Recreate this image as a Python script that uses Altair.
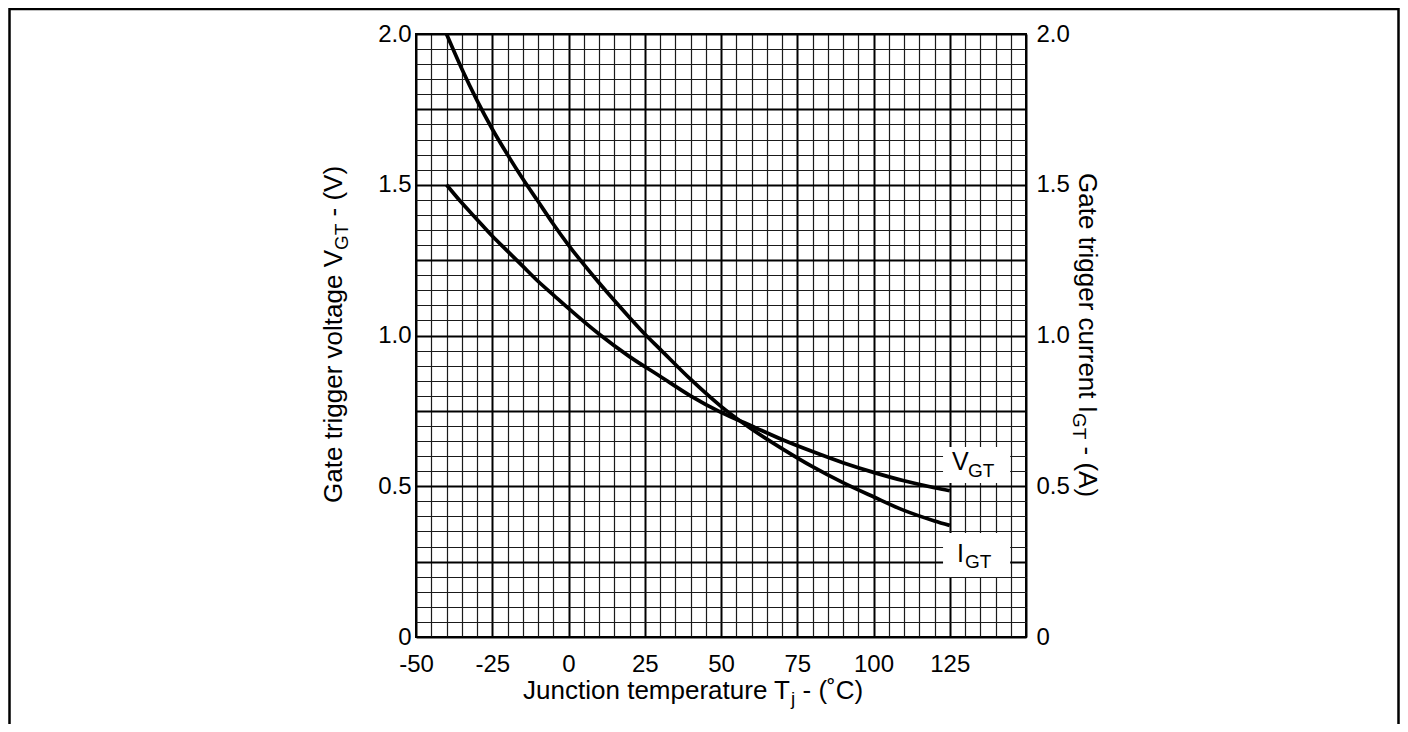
import altair as alt
import pandas as pd

# ---------------- data ----------------
TEMP_VGT = [-40, -35, -30, -25, -20, -15, -10, -5, 0, 10, 20, 30, 40, 50, 60, 70, 80, 90, 100, 110, 120, 125]
VGT = [1.50, 1.44, 1.385, 1.33, 1.28, 1.23, 1.18, 1.135, 1.09, 1.005, 0.93, 0.865, 0.80, 0.745, 0.70, 0.655,
       0.615, 0.578, 0.546, 0.518, 0.495, 0.485]

TEMP_IGT = [-40, -35, -30, -25, -20, -15, -10, -5, 0, 10, 20, 25, 30, 40, 50, 60, 70, 80, 90, 100, 110, 120, 125]
IGT = [2.00, 1.885, 1.78, 1.685, 1.60, 1.52, 1.445, 1.37, 1.30, 1.175, 1.06, 1.005, 0.955, 0.855, 0.765, 0.69,
       0.625, 0.565, 0.512, 0.465, 0.42, 0.385, 0.37]

# curve label boxes (data units) and label texts
BOX_T0 = [122.8, 122.8]
BOX_T1 = [144.8, 144.8]
BOX_V0 = [0.511, 0.199]
BOX_V1 = [0.630, 0.345]
LABEL_MAIN = ["V", "I"]
LABEL_SUB = ["GT", "GT"]
LABEL_T = [125.7, 127.4]
LABEL_V = [0.554, 0.249]

X_TICKS = list(range(-50, 151, 5))
Y_TICKS = [round(i * 0.05, 2) for i in range(41)]

FONT = "Liberation Sans"
X_MAJOR = "datum.value % 25 === 0"
Y_MAJOR = "abs(datum.value * 4 - round(datum.value * 4)) < 0.001"
Y_LABEL = ("abs(datum.value * 2 - round(datum.value * 2)) < 0.001 ? "
           "(datum.value == 0 ? '0' : format(datum.value, '.1f')) : ''")
MINOR_COLOR = "#1a1a1a"

x_scale = alt.Scale(domain=[-50, 150], nice=False, zero=False)
y_scale = alt.Scale(domain=[0, 2], nice=False, zero=False)

x_axis = alt.Axis(
    values=X_TICKS, title=None, grid=True, ticks=False, domain=False,
    labelExpr="datum.value % 25 === 0 && datum.value < 150 ? '' + datum.value : ''",
    labelFont=FONT, labelFontSize=24, labelColor="black", labelPadding=15,
    labelOverlap=False, labelFlush=False, labelBound=False,
    gridColor={"condition": {"test": X_MAJOR, "value": "#000000"}, "value": MINOR_COLOR},
    gridWidth={"condition": {"test": X_MAJOR, "value": 2}, "value": 1.2},
    gridOpacity=1,
)
y_axis_left = alt.Axis(
    values=Y_TICKS, title=None, grid=True, ticks=False, domain=False, orient="left",
    labelExpr=Y_LABEL, labelFont=FONT, labelFontSize=24, labelColor="black", labelPadding=5,
    labelOverlap=False, labelFlush=False, labelBound=False,
    gridColor={"condition": {"test": Y_MAJOR, "value": "#000000"}, "value": MINOR_COLOR},
    gridWidth={"condition": {"test": Y_MAJOR, "value": 2}, "value": 1.2},
    gridOpacity=1,
)
y_axis_right = alt.Axis(
    values=Y_TICKS, title=None, grid=False, ticks=False, domain=False, orient="right",
    labelExpr=Y_LABEL, labelFont=FONT, labelFontSize=24, labelColor="black", labelPadding=10,
    labelOverlap=False, labelFlush=False, labelBound=False,
)

vgt_df = pd.DataFrame({"T": TEMP_VGT, "v": VGT})
igt_df = pd.DataFrame({"T": TEMP_IGT, "v": IGT})
box_df = pd.DataFrame({"t0": BOX_T0, "t1": BOX_T1, "v0": BOX_V0, "v1": BOX_V1})
lab_df = pd.DataFrame({"main": LABEL_MAIN, "sub": LABEL_SUB, "T": LABEL_T, "v": LABEL_V})

boxes = alt.Chart(box_df).mark_rect(fill="white", stroke=None).encode(
    x=alt.X("t0:Q", scale=x_scale, axis=x_axis), x2="t1:Q",
    y=alt.Y("v0:Q", scale=y_scale, axis=y_axis_left), y2="v1:Q",
)

vgt_line = alt.Chart(vgt_df).mark_line(color="black", strokeWidth=3.7, interpolate="monotone").encode(
    x=alt.X("T:Q", scale=x_scale, axis=x_axis),
    y=alt.Y("v:Q", scale=y_scale, axis=y_axis_left),
)

lab_main = alt.Chart(lab_df).mark_text(font=FONT, fontSize=25, align="left", baseline="alphabetic",
                                       color="black").encode(
    x=alt.X("T:Q", scale=x_scale, axis=x_axis),
    y=alt.Y("v:Q", scale=y_scale, axis=y_axis_left),
    text="main:N",
)
lab_sub_v = alt.Chart(lab_df.iloc[[0]]).mark_text(font=FONT, fontSize=19, align="left", baseline="alphabetic",
                                                  color="black", dx=16, dy=7).encode(
    x=alt.X("T:Q", scale=x_scale, axis=x_axis),
    y=alt.Y("v:Q", scale=y_scale, axis=y_axis_left),
    text="sub:N",
)
lab_sub_i = alt.Chart(lab_df.iloc[[1]]).mark_text(font=FONT, fontSize=19, align="left", baseline="alphabetic",
                                                  color="black", dx=8, dy=6).encode(
    x=alt.X("T:Q", scale=x_scale, axis=x_axis),
    y=alt.Y("v:Q", scale=y_scale, axis=y_axis_left),
    text="sub:N",
)

one = pd.DataFrame({"k": [0]})


def txt(s, x, y, size=26, angle=0, align="left", dx=0, dy=0):
    return alt.Chart(one).mark_text(font=FONT, fontSize=size, angle=angle, align=align,
                                    baseline="alphabetic", color="black", dx=dx, dy=dy).encode(
        x=alt.value(x), y=alt.value(y), text=alt.value(s))


# axis titles built from parts so the subscripts are real subscripts
titles = [
    txt("Junction temperature T", 374, 665, align="right"),
    txt("j", 374, 665, size=19, dx=1, dy=6),
    txt("- (˚C)", 374, 665, dx=12.5),
    txt("Gate trigger voltage V", -74, 216, angle=270, align="right"),
    txt("GT", -74, 216, size=19, angle=270, dy=6),
    txt("- (V)", -74, 216, angle=270, dx=33.5),
    txt("Gate trigger current I", 663, 379, angle=90, align="right"),
    txt("GT", 663, 379, size=19, angle=90, dy=6),
    txt("- (A)", 663, 379, angle=90, dx=33.5),
]

frame = alt.Chart(one).mark_rect(fill=None, stroke="black", strokeWidth=2.5).encode(
    x=alt.value(-406.5), x2=alt.value(982.5), y=alt.value(-25), y2=alt.value(720))

left_group = alt.layer(boxes, vgt_line, lab_main, lab_sub_v, lab_sub_i, *titles, frame)

igt_line = alt.Chart(igt_df).mark_line(color="black", strokeWidth=3.7, interpolate="monotone").encode(
    x=alt.X("T:Q", scale=x_scale, axis=x_axis),
    y=alt.Y("v:Q", scale=y_scale, axis=y_axis_right),
)

chart = alt.layer(left_group, igt_line).resolve_scale(y="independent").properties(
    width=610, height=603,
    padding={"left": 408, "top": 26, "right": 374, "bottom": 87},
    autosize=alt.AutoSizeParams(type="none"),
    background="white",
).configure_view(stroke="black", strokeWidth=2)

chart.save("out.html", embed_options={"renderer": "svg", "actions": False})
